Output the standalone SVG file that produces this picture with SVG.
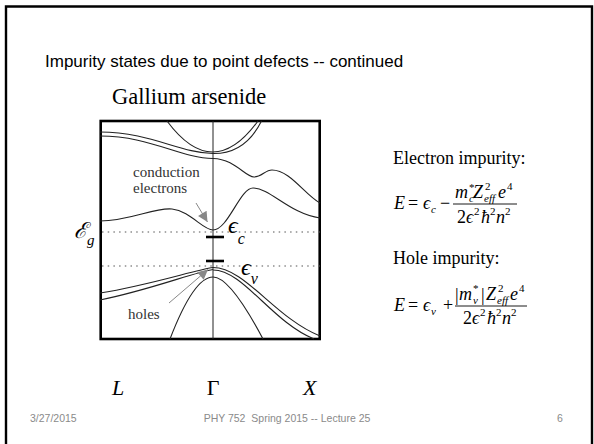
<svg xmlns="http://www.w3.org/2000/svg" width="594" height="444" viewBox="0 0 594 444">
<defs>
<style>
.band{fill:none;stroke:#222;stroke-width:1.1}
.dot{fill:none;stroke:#555;stroke-width:1.2;stroke-dasharray:1.5 4.2}
.bar{stroke:#000;stroke-width:2.6}
.lbl{font-family:"Liberation Serif","DejaVu Serif",serif;font-size:15px;fill:#333}
.sym{font-family:"Liberation Serif","DejaVu Serif",serif;font-style:italic;fill:#000}
.ser{font-family:"Liberation Serif","DejaVu Serif",serif;fill:#000}
.eq{font-family:"Liberation Serif","DejaVu Serif",serif;font-size:18px;fill:#000}
.it{font-style:italic}
.sm{font-size:11px}
.foot{font-family:"Liberation Sans",Arial,sans-serif;font-size:10.5px;fill:#8a8a8a}
.garrow{stroke:#888;stroke-width:1;fill:none}
</style>
<marker id="gh" viewBox="0 0 10 10" refX="10" refY="5" markerWidth="14" markerHeight="10" markerUnits="userSpaceOnUse" orient="auto">
<path d="M0,0 L10,5 L0,10 z" fill="#888"/>
</marker>
</defs>
<path d="M6,450 V6.5 H592 V450" fill="none" stroke="#000" stroke-width="2.4"/>
<text x="45" y="67" font-family="Liberation Sans,Arial,sans-serif" font-size="17" fill="#000">Impurity states due to point defects -- continued</text>
<text class="ser" x="112" y="104" font-size="22.5">Gallium arsenide</text>

<g id="band-diagram">
<rect x="100.7" y="121" width="219" height="218" fill="none" stroke="#000" stroke-width="2.6"/>
<line x1="213" y1="121" x2="213" y2="339" stroke="#222" stroke-width="1"/>
<path class="band" d="M167,121 Q213,183 258,121"/>
<path class="band" d="M100,132 C150,132 180,153 213,153.5 Q245,154 261.5,121"/>
<path class="band" d="M100,136 C150,136 180,158 213,158.5 C235,159 245,177 254,177 C262,177 265,170 272,170 C290,170 305,195 320,203"/>
<path class="band" d="M100,221 C130,221 155,207 172,209 C190,211 203,230 213,230 C228,230 240,188 253,188 C270,188 290,214 320,218"/>
<path class="band" d="M100,293 C150,285 195,270 213,267.5"/>
<path class="band" d="M100,300 C150,290 195,272 213,269.5"/>
<path class="band" d="M213,267.5 C245,267.5 275,318 320,336"/>
<path class="band" d="M213,270 C243,270 272,322 314,339"/>
<path class="band" d="M170,339 C185,300 200,277 213,277 C226,277 245,305 263,339"/>
<line class="dot" x1="102" y1="232" x2="320" y2="232"/>
<line class="dot" x1="102" y1="266" x2="320" y2="266"/>
<line class="bar" x1="206" y1="237" x2="224" y2="237"/>
<line class="bar" x1="206" y1="261" x2="224" y2="261"/>
</g>

<g id="connectors">
<line class="garrow" x1="196" y1="203" x2="207.5" y2="222" marker-end="url(#gh)"/>
<line class="garrow" x1="169" y1="303" x2="208" y2="269.5" marker-end="url(#gh)"/>
</g>

<g id="labels">
<text class="lbl" x="133" y="177">conduction</text>
<text class="lbl" x="133" y="193">electrons</text>
<text class="lbl" x="128" y="319">holes</text>
<text class="sym" x="228" y="233" font-size="24">ϵ<tspan font-size="16" dy="11">c</tspan></text>
<text class="sym" x="241" y="275" font-size="24">ϵ<tspan font-size="16" dy="9">v</tspan></text>
<text class="sym" x="74" y="238" font-size="22">ℰ<tspan font-size="15" dy="7">g</tspan></text>
<text class="sym" x="112" y="395" font-size="22">L</text>
<text class="ser" x="213" y="395" font-size="22" text-anchor="middle">Γ</text>
<text class="sym" x="303" y="395" font-size="22">X</text>
</g>

<g id="electron-eq">
<text class="eq" x="393" y="164">Electron impurity:</text>
<text class="eq it" x="394" y="209">E</text>
<text class="eq" x="408" y="209">=</text>
<text class="eq it" x="423" y="209">ϵ</text>
<text class="eq it sm" x="431" y="213">c</text>
<text class="eq" x="440" y="209">−</text>
<text class="eq it" x="455" y="198">m</text>
<text class="eq it sm" x="469" y="202">c</text>
<text class="eq sm" x="469" y="191">*</text>
<text class="eq it" x="473" y="198">Z</text>
<text class="eq sm" x="485" y="190">2</text>
<text class="eq it sm" x="484" y="202">eff</text>
<text class="eq it" x="498" y="198">e</text>
<text class="eq sm" x="507" y="190">4</text>
<line x1="453" y1="204" x2="517" y2="204" stroke="#000" stroke-width="0.9"/>
<text class="eq" x="457" y="223">2</text>
<text class="eq it" x="466" y="223">ϵ</text>
<text class="eq sm" x="474" y="215">2</text>
<text class="eq it" x="481" y="223">ħ</text>
<text class="eq sm" x="490" y="215">2</text>
<text class="eq it" x="496" y="223">n</text>
<text class="eq sm" x="505" y="215">2</text>
</g>

<g id="hole-eq">
<text class="eq" x="393" y="264">Hole impurity:</text>
<text class="eq it" x="394" y="311">E</text>
<text class="eq" x="408" y="311">=</text>
<text class="eq it" x="423" y="311">ϵ</text>
<text class="eq it sm" x="431" y="315">v</text>
<text class="eq" x="443" y="311">+</text>
<text class="eq" x="455" y="301" font-size="22">|</text>
<text class="eq it" x="459" y="300">m</text>
<text class="eq it sm" x="473" y="304">v</text>
<text class="eq sm" x="473" y="292">*</text>
<text class="eq" x="481" y="301" font-size="22">|</text>
<text class="eq it" x="486" y="300">Z</text>
<text class="eq sm" x="498" y="292">2</text>
<text class="eq it sm" x="497" y="304">eff</text>
<text class="eq it" x="510" y="300">e</text>
<text class="eq sm" x="519" y="292">4</text>
<line x1="455" y1="306" x2="527" y2="306" stroke="#000" stroke-width="0.9"/>
<text class="eq" x="463" y="324">2</text>
<text class="eq it" x="472" y="324">ϵ</text>
<text class="eq sm" x="480" y="316">2</text>
<text class="eq it" x="487" y="324">ħ</text>
<text class="eq sm" x="496" y="316">2</text>
<text class="eq it" x="502" y="324">n</text>
<text class="eq sm" x="511" y="316">2</text>
</g>

<g id="footer">
<text class="foot" x="30" y="422">3/27/2015</text>
<text class="foot" x="287" y="422" text-anchor="middle" xml:space="preserve">PHY 752  Spring 2015 -- Lecture 25</text>
<text class="foot" x="557" y="422">6</text>
</g>
</svg>
